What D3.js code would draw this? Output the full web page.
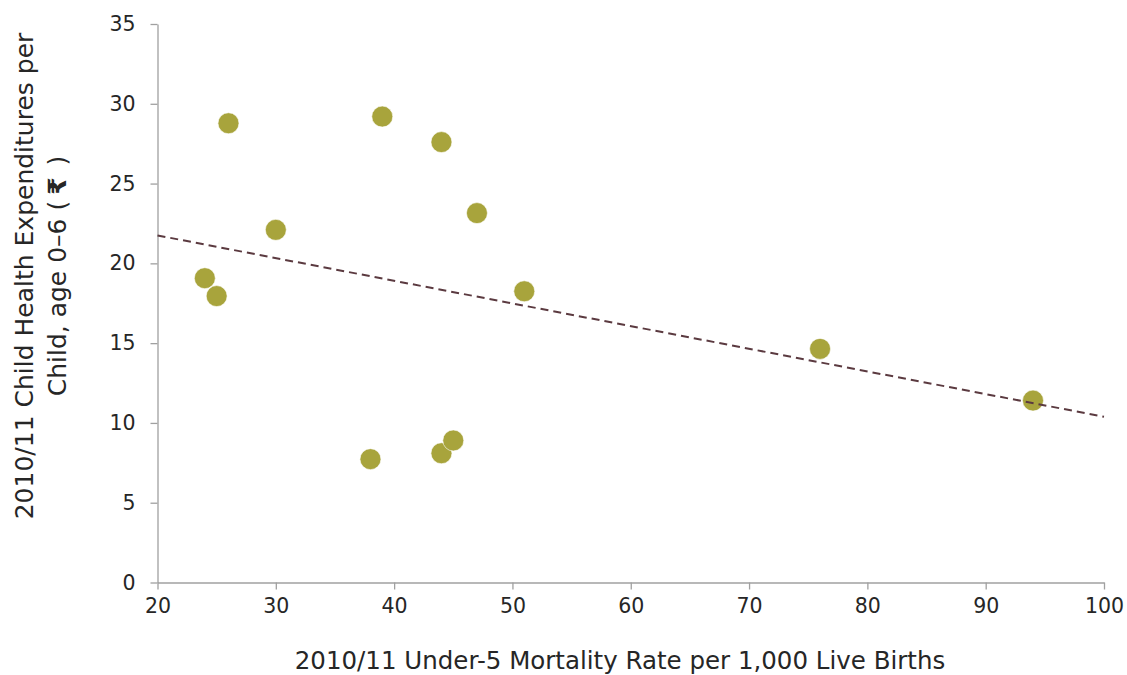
<!DOCTYPE html>
<html>
<head>
<meta charset="utf-8">
<script src="https://cdn.jsdelivr.net/npm/d3@7"></script>
<style>
  html, body { margin: 0; padding: 0; background: #fff; }
  svg { display: block; }
  text { font-family: "DejaVu Sans", Lato, sans-serif; fill: #262626; }
</style>
</head>
<body>
<svg id="chart" width="1127" height="675"></svg>
<script>
// Under-5 mortality rate per 1,000 live births (2010/11)
const mortality = [26, 39, 44, 47, 30, 24, 25, 51, 76, 94, 38, 44, 45];
// Child health expenditures per child, age 0-6 (₹)
const expenditure = [28.78, 29.2, 27.6, 23.15, 22.1, 19.07, 17.95, 18.25, 14.64, 11.4, 7.73, 8.1, 8.9];
const xTicks = [20, 30, 40, 50, 60, 70, 80, 90, 100];
const yTicks = [0, 5, 10, 15, 20, 25, 30, 35];
const xTitle = "2010/11 Under-5 Mortality Rate per 1,000 Live Births";
const yTitleLine1 = "2010/11 Child Health Expenditures per";
const yTitleLine2 = ["Child, age 0\u20136 (", "\u20B9", " )"];

const svg = d3.select("#chart");
const margin = {left: 157.5, right: 1127 - 1104, top: 24, bottom: 675 - 582.5};
const W = 1127, H = 675;

const x = d3.scaleLinear().domain([20, 100]).range([margin.left, W - margin.right]);
const y = d3.scaleLinear().domain([0, 35]).range([H - margin.bottom, margin.top]);

const axisColor = "#a0a0a0";

// X axis
const gx = svg.append("g")
  .attr("transform", `translate(0,${y(0)})`)
  .call(d3.axisBottom(x).tickValues(xTicks).tickSize(7).tickSizeOuter(0).tickPadding(9));
gx.select(".domain").attr("stroke", axisColor).attr("stroke-width", 1.3);
gx.selectAll(".tick line").attr("stroke", axisColor).attr("stroke-width", 1.3);
gx.selectAll(".tick text").style("font-size", "20.5px").attr("fill", "#262626");

// Y axis
const gy = svg.append("g")
  .attr("transform", `translate(${x(20)},0)`)
  .call(d3.axisLeft(y).tickValues(yTicks).tickSize(7).tickSizeOuter(0).tickPadding(15));
gy.select(".domain").attr("stroke", axisColor).attr("stroke-width", 1.3);
gy.selectAll(".tick line").attr("stroke", axisColor).attr("stroke-width", 1.3);
gy.selectAll(".tick text").style("font-size", "20.5px").attr("fill", "#262626");

// Points
svg.append("g").selectAll("circle")
  .data(mortality.map((m, i) => ({m, e: expenditure[i]})))
  .join("circle")
  .attr("cx", d => x(d.m))
  .attr("cy", d => y(d.e))
  .attr("r", 10.5)
  .attr("fill", "#a8a43c")
  .attr("stroke", "#ffffff")
  .attr("stroke-width", 0.6);

// Linear trendline (least squares)
const n = mortality.length;
const mx = d3.mean(mortality), my = d3.mean(expenditure);
let sxy = 0, sxx = 0;
for (let i = 0; i < n; i++) {
  sxy += (mortality[i] - mx) * (expenditure[i] - my);
  sxx += (mortality[i] - mx) ** 2;
}
const slope = sxy / sxx, intercept = my - slope * mx;
const trend = x.domain().map(v => [v, intercept + slope * v]);
svg.append("path")
  .datum(trend)
  .attr("d", d3.line().x(d => x(d[0])).y(d => y(d[1])))
  .attr("fill", "none")
  .attr("stroke", "#5b3a40")
  .attr("stroke-width", 2)
  .attr("stroke-dasharray", "8,5");

// X title
svg.append("text")
  .attr("x", 620)
  .attr("y", 669)
  .attr("text-anchor", "middle")
  .style("font-size", "24.5px")
  .text(xTitle);

// Y title (two lines, rotated)
const yg = svg.append("g")
  .attr("transform", `translate(0,276) rotate(-90)`)
  .style("font-size", "25px");
yg.append("text")
  .attr("x", 0).attr("y", 33)
  .attr("text-anchor", "middle")
  .text(yTitleLine1);
const l2 = yg.append("text")
  .attr("x", 0).attr("y", 66)
  .attr("text-anchor", "middle");
l2.append("tspan").text(yTitleLine2[0]);
l2.append("tspan").attr("dx", 6).style("font-weight", "bold").text(yTitleLine2[1]);
l2.append("tspan").attr("dx", 4).text(yTitleLine2[2]);
</script>
</body>
</html>
